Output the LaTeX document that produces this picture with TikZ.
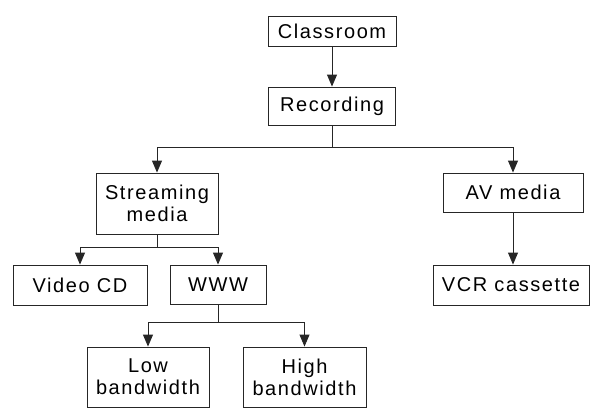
\documentclass[tikz,border=0pt]{standalone}
\usepackage{fontspec}
\setmainfont{Liberation Sans}[LetterSpace=8]
\usetikzlibrary{arrows.meta}
\begin{document}
\begin{tikzpicture}[x=1pt,y=-1pt,
  box/.style={draw=black!85, line width=0.9pt, inner sep=0pt, align=center,
    font=\fontsize{20}{22}\selectfont},
  conn/.style={draw=black!85, line width=0.9pt},
  arr/.style={conn, -{Triangle[length=12pt,width=10pt]}}]
\useasboundingbox (0,0) rectangle (594,408);
\node[box, minimum width=128pt, minimum height=30pt] (class) at (332,31) {Classroom};
\node[box, minimum width=127pt, minimum height=38pt] (rec) at (332,106) {Recording};
\node[box, minimum width=122pt, minimum height=61pt] (stream) at (157,203.5) {Streaming\\media};
\node[box, minimum width=140pt, minimum height=39pt] (av) at (513,192.5) {AV media};
\node[box, minimum width=134pt, minimum height=40pt] (vcd) at (80,285) {Video CD};
\node[box, minimum width=96pt, minimum height=39pt] (www) at (218,284.5) {WWW};
\node[box, minimum width=156pt, minimum height=40pt] (vcr) at (511,285) {VCR cassette};
\node[box, minimum width=122pt, minimum height=60pt] (low) at (148,377) {Low\\bandwidth};
\node[box, minimum width=123pt, minimum height=60pt] (high) at (304.5,377) {High\\bandwidth};
\draw[arr] (class) -- (rec);
\draw[conn] (rec.south) -- ++(0,22) coordinate (j1);
\draw[arr] (j1) -| (stream.north);
\draw[arr] (j1) -| (av.north);
\draw[conn] (stream.south) -- ++(0,13) coordinate (j2);
\draw[arr] (j2) -| (vcd.north);
\draw[arr] (j2) -| (www.north);
\draw[conn] (www.south) -- ++(0,18) coordinate (j3);
\draw[arr] (j3) -| (low.north);
\draw[arr] (j3) -| (high.north);
\draw[arr] (av.south) -- (av.south |- vcr.north);
\end{tikzpicture}
\end{document}
